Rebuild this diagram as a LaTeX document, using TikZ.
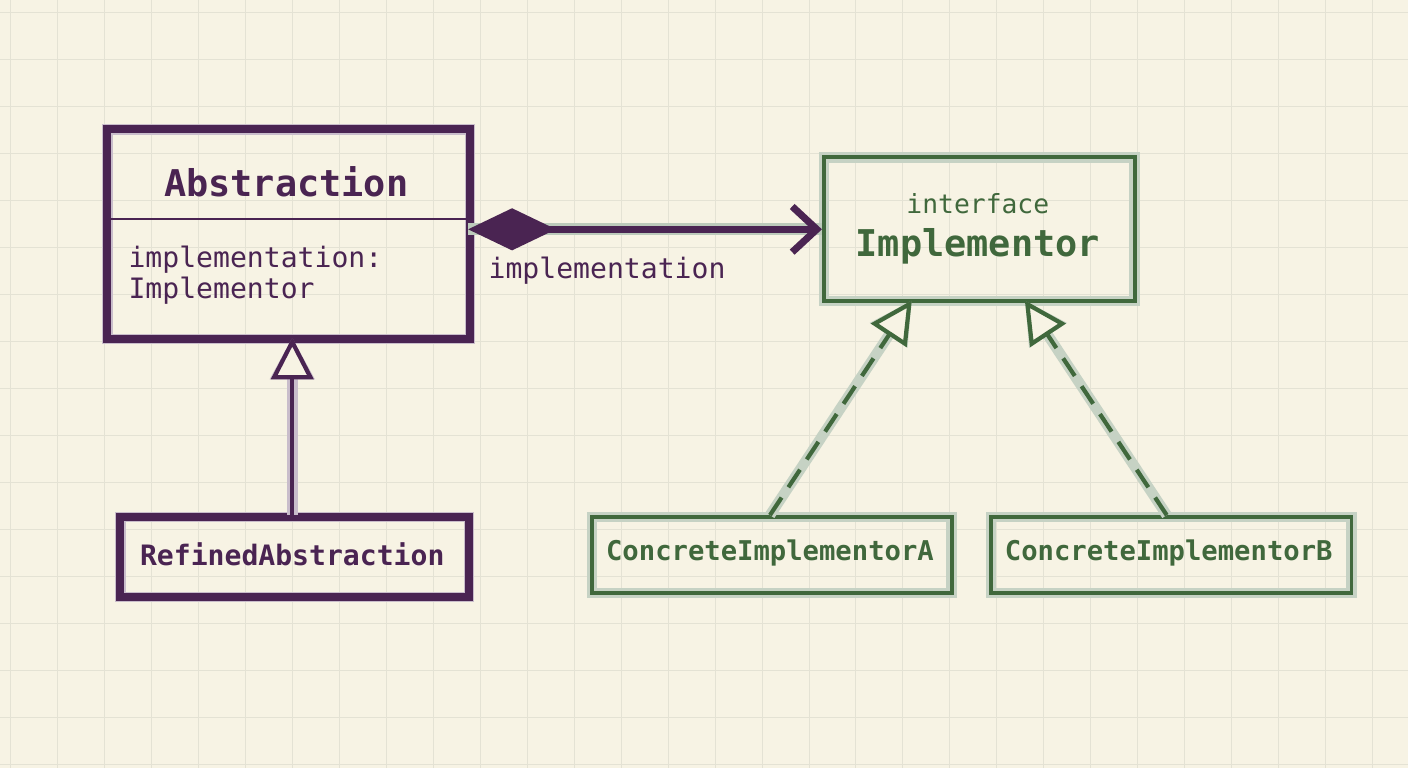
\documentclass[tikz,border=0pt]{standalone}
\usepackage{fontspec}
\setmonofont{DejaVu Sans Mono}
\usepackage{tikz}
\usetikzlibrary{arrows.meta, positioning, calc}
\definecolor{paper}{RGB}{247,243,228}
\definecolor{gridline}{RGB}{228,226,212}
\definecolor{umlpurple}{RGB}{74,36,82}
\definecolor{umlgreen}{RGB}{64,104,60}

\begin{document}
\begin{tikzpicture}[
    x=0.02cm, y=-0.02cm,
    classbox/.style={rectangle, draw, line width=2.2pt, inner sep=0pt, anchor=north west},
    purplebox/.style={classbox, draw=umlpurple, double=umlpurple!25, double distance=0pt, preaction={draw=umlpurple!30, line width=6pt}},
    greenbox/.style={classbox, draw=umlgreen, preaction={draw=umlgreen!30, line width=6pt}},
    label/.style={font=\ttfamily\fontsize{16}{18}\selectfont},
    arrow/.style={line width=2.4pt}
]

% Background and grid
\fill[paper] (0,0) rectangle (1408,768);
\foreach \gx in {10,57,...,1408} \draw[gridline, line width=0.5pt] (\gx,0) -- (\gx,768);
\foreach \gy in {12,59,...,768} \draw[gridline, line width=0.5pt] (0,\gy) -- (1408,\gy);
\useasboundingbox (0,0) rectangle (1408,768);

% Abstraction side
\node[purplebox, minimum width=7.26cm, minimum height=4.2cm] (abs) at (105,127) {};
\draw[umlpurple, line width=1pt] (105,219) -- (468,219);
\node[font=\ttfamily\bfseries\fontsize{21}{24}\selectfont, text=umlpurple] (absname) at (286,181) {Abstraction};
\node[label, text=umlpurple, anchor=west, align=left] (absattr) at (122,275) {implementation:\\Implementor};
\node[purplebox, minimum width=6.98cm, minimum height=1.6cm] (refined) at (118,515) {};
\node[font=\ttfamily\bfseries\fontsize{16}{18}\selectfont, text=umlpurple] (refinedname) at (292,554) {RefinedAbstraction};

% Implementor side
\node[greenbox, minimum width=6.22cm, minimum height=2.88cm] (impl) at (822,155) {};
\node[font=\ttfamily\fontsize{15}{18}\selectfont, text=umlgreen] (stereo) at (978,203) {interface};
\node[font=\ttfamily\bfseries\fontsize{21}{24}\selectfont, text=umlgreen] (implname) at (978,246) {Implementor};
\node[greenbox, minimum width=7.2cm, minimum height=1.52cm] (concA) at (590,515) {};
\node[font=\ttfamily\bfseries\fontsize{15.5}{18}\selectfont, text=umlgreen] (concAname) at (770,553) {ConcreteImplementorA};
\node[greenbox, minimum width=7.22cm, minimum height=1.52cm] (concB) at (989,515) {};
\node[font=\ttfamily\bfseries\fontsize{15.5}{18}\selectfont, text=umlgreen] (concBname) at (1169,553) {ConcreteImplementorB};

% Connectors
\coordinate (compstart) at (468,229);
\coordinate (compend) at (822,229);
\draw[arrow, umlgreen!35, line width=7pt] (compstart) -- (compend);
\draw[arrow, umlpurple, line width=4pt, {Diamond[length=50pt,width=24pt]}-{Straight Barb[length=14pt,width=26pt,line width=4pt]}] (compstart) -- (compend);
\node[label, text=umlpurple] (complabel) at (607,270) {implementation};

\draw[arrow, umlpurple, preaction={draw=umlpurple!30, line width=6pt}, -{Triangle[open,length=24pt,width=24pt,fill=paper]}] (refined.north -| 292,0) -- (292,337);

\draw[arrow, umlgreen, dash pattern=on 12pt off 7pt, preaction={draw=umlgreen!30, line width=6pt, solid}, -{Triangle[open,length=24pt,width=24pt,fill=paper]}] (770,515) -- (912,300);
\draw[arrow, umlgreen, dash pattern=on 12pt off 7pt, preaction={draw=umlgreen!30, line width=6pt, solid}, -{Triangle[open,length=24pt,width=24pt,fill=paper]}] (1167,515) -- (1025,300);

\end{tikzpicture}
\end{document}
